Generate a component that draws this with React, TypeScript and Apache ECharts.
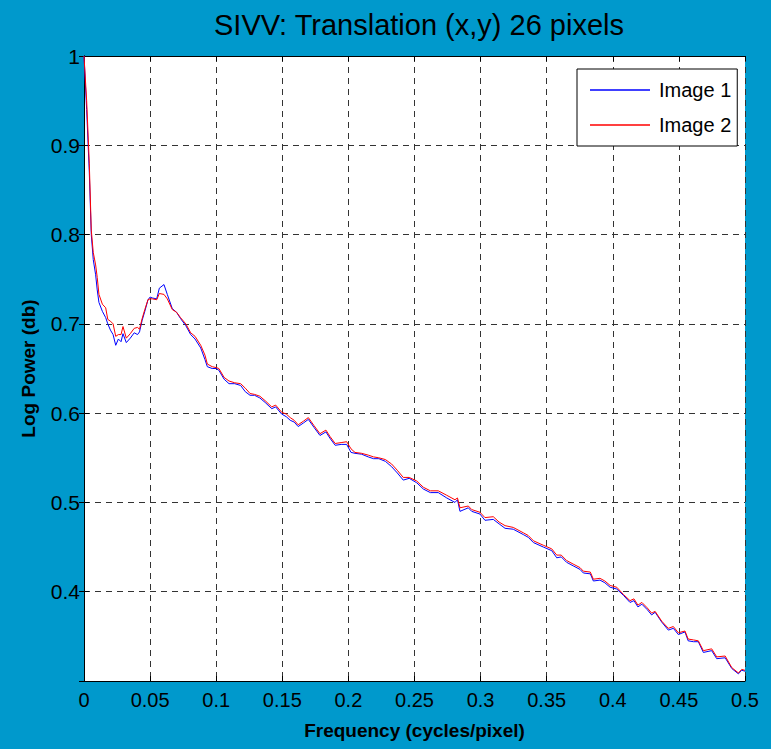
import React, { useEffect, useRef } from "react";
import * as echarts from "echarts";

const freq = [
  0, 0.002, 0.004, 0.0055, 0.007, 0.0088, 0.01, 0.0113, 0.0139, 0.0164, 0.018, 0.02, 0.022, 0.024, 0.026, 0.028,
  0.0295, 0.032, 0.035, 0.038, 0.0405, 0.042, 0.044, 0.046, 0.0484, 0.05, 0.0517, 0.055, 0.057, 0.0605, 0.063,
  0.0668, 0.07, 0.073, 0.077, 0.0807, 0.084, 0.0883, 0.0915, 0.0933, 0.097, 0.1, 0.102, 0.106, 0.1097, 0.114,
  0.1185, 0.122, 0.1256, 0.129, 0.133, 0.137, 0.142, 0.145, 0.1495, 0.153, 0.156, 0.159, 0.162, 0.166, 0.1697,
  0.174, 0.1785, 0.183, 0.186, 0.19, 0.1945, 0.1987, 0.202, 0.205, 0.21, 0.215, 0.219, 0.223, 0.228, 0.2327,
  0.237, 0.2415, 0.246, 0.2517, 0.2567, 0.262, 0.268, 0.2744, 0.2806, 0.2825, 0.2844, 0.2907, 0.2933, 0.2995,
  0.3033, 0.3096, 0.314, 0.3185, 0.3247, 0.3323, 0.336, 0.34, 0.3475, 0.3538, 0.3576, 0.361, 0.365, 0.37, 0.3752,
  0.3777, 0.383, 0.3853, 0.3903, 0.394, 0.398, 0.403, 0.408, 0.413, 0.416, 0.419, 0.422, 0.426, 0.4294, 0.432,
  0.437, 0.442, 0.4458, 0.4496, 0.4546, 0.457, 0.461, 0.4647, 0.4685, 0.4748, 0.4786, 0.485, 0.49, 0.495, 0.4975,
  0.5,
];

const image1 = [
  1.0, 0.94, 0.87, 0.8, 0.772, 0.755, 0.738, 0.724, 0.714, 0.707, 0.7, 0.693, 0.688, 0.676, 0.683, 0.68,
  0.689, 0.679, 0.684, 0.69, 0.688, 0.691, 0.704, 0.714, 0.727, 0.73, 0.729, 0.728, 0.74, 0.744, 0.733,
  0.717, 0.713, 0.706, 0.698, 0.688, 0.683, 0.673, 0.66, 0.652, 0.65, 0.65, 0.648, 0.638, 0.633, 0.633,
  0.631, 0.624, 0.62, 0.62, 0.617, 0.612, 0.605, 0.607, 0.599, 0.596, 0.592, 0.59, 0.585, 0.589, 0.593,
  0.584, 0.575, 0.579, 0.572, 0.564, 0.565, 0.565, 0.556, 0.555, 0.554, 0.551, 0.549, 0.549, 0.546, 0.54,
  0.533, 0.525, 0.527, 0.522, 0.515, 0.511, 0.511, 0.505, 0.5, 0.503, 0.49, 0.494, 0.49, 0.487,
  0.48, 0.481, 0.476, 0.471, 0.47, 0.464, 0.461, 0.455, 0.45, 0.446, 0.438, 0.439, 0.433, 0.429, 0.425,
  0.421, 0.42, 0.412, 0.413, 0.41, 0.405, 0.403, 0.396, 0.388, 0.39, 0.383, 0.386, 0.38, 0.374, 0.377,
  0.366, 0.357, 0.359, 0.352, 0.355, 0.345, 0.344, 0.344, 0.332, 0.334, 0.325, 0.326, 0.314, 0.308, 0.312,
  0.311,
];

const image2 = [
  1.0, 0.95, 0.88, 0.805, 0.78, 0.766, 0.752, 0.733, 0.722, 0.718, 0.705, 0.703, 0.7, 0.686, 0.688, 0.688,
  0.697, 0.684, 0.689, 0.695, 0.696, 0.694, 0.706, 0.716, 0.727, 0.728, 0.728, 0.727, 0.734, 0.733, 0.728,
  0.716, 0.713, 0.707, 0.7, 0.69, 0.686, 0.676, 0.665, 0.655, 0.652, 0.651, 0.65, 0.64, 0.636, 0.634,
  0.633, 0.628, 0.622, 0.621, 0.619, 0.614, 0.607, 0.609, 0.601, 0.599, 0.595, 0.592, 0.587, 0.591, 0.595,
  0.586, 0.577, 0.581, 0.574, 0.566, 0.567, 0.568, 0.56, 0.556, 0.555, 0.553, 0.551, 0.55, 0.548, 0.543,
  0.536, 0.528, 0.528, 0.524, 0.517, 0.513, 0.513, 0.508, 0.503, 0.505, 0.494, 0.496, 0.492, 0.489,
  0.483, 0.484, 0.478, 0.474, 0.472, 0.466, 0.463, 0.457, 0.452, 0.448, 0.441, 0.441, 0.435, 0.431, 0.427,
  0.423, 0.422, 0.414, 0.415, 0.412, 0.407, 0.405, 0.397, 0.39, 0.392, 0.385, 0.388, 0.382, 0.376, 0.378,
  0.367, 0.359, 0.361, 0.354, 0.356, 0.347, 0.346, 0.345, 0.334, 0.336, 0.327, 0.328, 0.315, 0.309, 0.313,
  0.312,
];

const seriesNames = ["Image 1", "Image 2"];
const titleText = "SIVV: Translation (x,y) 26 pixels";
const xName = "Frequency (cycles/pixel)";
const yName = "Log Power (db)";

const fmt = (v: number) => parseFloat(v.toFixed(3)).toString();

export default function App() {
  const ref = useRef<HTMLDivElement>(null);
  useEffect(() => {
    if (!ref.current) return;
    const chart = echarts.init(ref.current, null, { renderer: "svg" });
    const font = "Liberation Sans, Arial, sans-serif";
    const mirrorAxis = {
      axisLabel: { show: false },
      axisTick: { show: true, inside: true, length: 5, lineStyle: { color: "#000" } },
      axisLine: { show: true, lineStyle: { color: "#000", width: 1 } },
      splitLine: { show: false },
    };
    chart.setOption({
      animation: false,
      backgroundColor: "#0099cc",
      title: {
        text: titleText,
        left: 414,
        textAlign: "center",
        top: 5,
        textStyle: {
          fontFamily: font,
          fontWeight: "normal",
          fontSize: 29,
          color: "#000",
        },
      },
      grid: { left: 84, right: 26, top: 56, bottom: 68, show: true, backgroundColor: "#fff", borderWidth: 0 },
      legend: {
        orient: "vertical",
        left: 577,
        top: 69,
        backgroundColor: "#fff",
        borderColor: "#000",
        borderWidth: 1,
        borderRadius: 0,
        padding: [11, 6, 11, 13],
        itemGap: 15,
        itemWidth: 60,
        itemHeight: 1.5,
        icon: "rect",
        data: seriesNames,
        textStyle: { fontFamily: font, fontSize: 20, color: "#000", padding: [0, 0, 0, 4] },
      },
      xAxis: [
        {
          type: "value",
          min: 0,
          max: 0.5,
          interval: 0.05,
          name: xName,
          nameLocation: "middle",
          nameGap: 40,
          nameTextStyle: { fontFamily: font, fontSize: 19, fontWeight: "bold", color: "#000" },
          axisLine: { show: true, onZero: false, lineStyle: { color: "#000", width: 1 } },
          axisTick: { show: true, inside: true, length: 5, lineStyle: { color: "#000" } },
          axisLabel: { fontFamily: font, fontSize: 20, color: "#000", margin: 9, formatter: fmt },
          splitLine: { show: true, lineStyle: { color: "#333", type: [6, 5], width: 1 } },
        },
        { type: "value", position: "top", min: 0, max: 0.5, interval: 0.05, ...mirrorAxis },
      ],
      yAxis: [
        {
          type: "value",
          min: 0.3,
          max: 1,
          interval: 0.1,
          name: yName,
          nameLocation: "middle",
          nameGap: 46,
          nameTextStyle: { fontFamily: font, fontSize: 19, fontWeight: "bold", color: "#000" },
          axisLine: { show: true, onZero: false, lineStyle: { color: "#000", width: 1 } },
          axisTick: { show: true, inside: true, length: 5, lineStyle: { color: "#000" } },
          axisLabel: {
            fontFamily: font,
            fontSize: 21,
            color: "#000",
            margin: 4,
            formatter: (v: number) => (v < 0.35 ? "" : fmt(v)),
          },
          splitLine: { show: true, lineStyle: { color: "#333", type: [6, 5], width: 1 } },
        },
        { type: "value", position: "right", min: 0.3, max: 1, interval: 0.1, ...mirrorAxis },
      ],
      series: [
        {
          name: seriesNames[0],
          type: "line",
          showSymbol: false,
          data: freq.map((f, i) => [f, image1[i]]),
          lineStyle: { color: "#0000ff", width: 1 },
          itemStyle: { color: "#0000ff" },
        },
        {
          name: seriesNames[1],
          type: "line",
          showSymbol: false,
          data: freq.map((f, i) => [f, image2[i]]),
          lineStyle: { color: "#ff0000", width: 1 },
          itemStyle: { color: "#ff0000" },
        },
      ],
    });
    return () => chart.dispose();
  }, []);
  return (
    <div
      ref={ref}
      style={{ position: "absolute", left: 0, top: 0, width: 771, height: 749 }}
    />
  );
}
